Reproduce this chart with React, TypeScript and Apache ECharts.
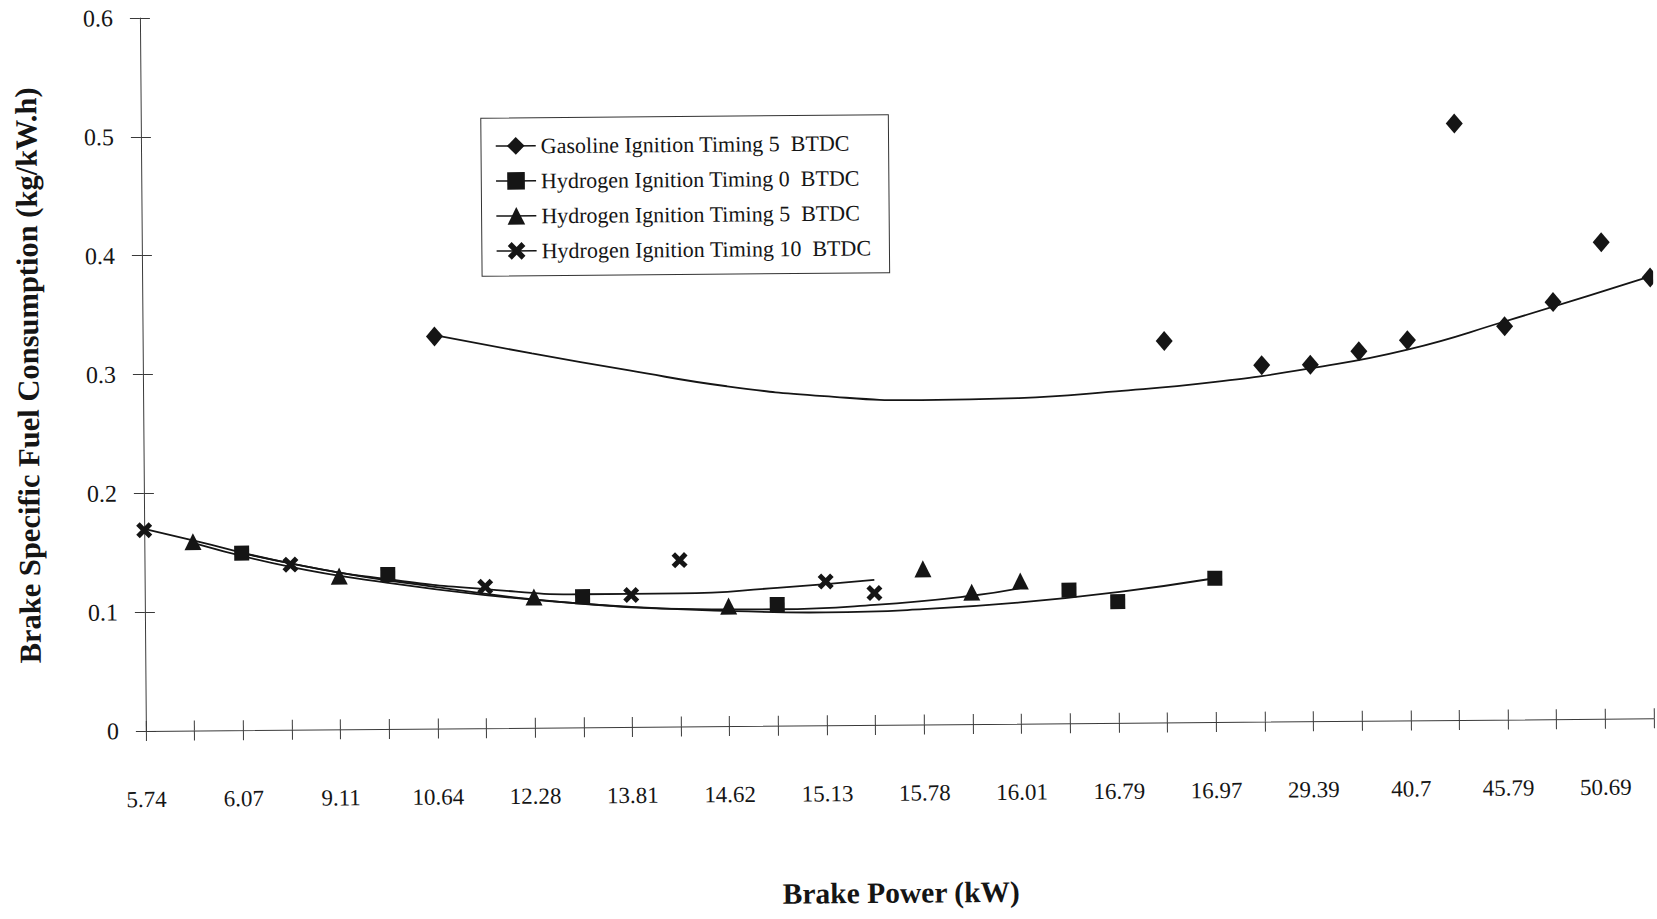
import React, { useEffect, useRef } from "react";
import * as echarts from "echarts";

// ---------- data ----------
// Brake power (kW) tick labels; the axis shows a label on every second category
const xLabels = [
  "5.74", "6.07", "9.11", "10.64", "12.28", "13.81", "14.62", "15.13",
  "15.78", "16.01", "16.79", "16.97", "29.39", "40.7", "45.79", "50.69",
];
const categories: string[] = xLabels.flatMap((l) => [l, ""]); // 32 categories

const yTicks = [0, 0.1, 0.2, 0.3, 0.4, 0.5, 0.6];

const seriesNames = [
  "Gasoline Ignition Timing 5  BTDC",
  "Hydrogen Ignition Timing 0  BTDC",
  "Hydrogen Ignition Timing 5  BTDC",
  "Hydrogen Ignition Timing 10  BTDC",
];

// [category index, BSFC kg/kW.h]
const gasoline: [number, number][] = [
  [6, 0.33], [21, 0.321], [23, 0.3], [24, 0.3], [25, 0.311], [26, 0.32],
  [27, 0.502], [28, 0.331], [29, 0.351], [30, 0.401], [31, 0.371],
];
const hydrogen0: [number, number][] = [
  [2, 0.149], [5, 0.13], [9, 0.11], [13, 0.102], [19, 0.112], [20, 0.102], [22, 0.121],
];
const hydrogen5: [number, number][] = [
  [1, 0.159], [4, 0.129], [8, 0.11], [12, 0.101], [16, 0.131], [17, 0.111], [18, 0.12],
];
const hydrogen10: [number, number][] = [
  [0, 0.169], [3, 0.139], [7, 0.119], [10, 0.111], [11, 0.14], [14, 0.121], [15, 0.111],
];

// polynomial trend lines at several categories
const gasolineTrend: [number, number][] = [
  [6, 0.331], [8, 0.315], [10, 0.3], [12, 0.286], [14, 0.277], [16, 0.273],
  [18, 0.274], [20, 0.279], [22, 0.286], [24, 0.297], [26, 0.312], [28, 0.335], [31, 0.372],
];
const hydrogen0Trend: [number, number][] = [
  [2, 0.149], [4, 0.132], [6, 0.119], [8, 0.108], [10, 0.101], [12, 0.097],
  [14, 0.095], [16, 0.097], [18, 0.102], [20, 0.11], [22, 0.121],
];
const hydrogen5Trend: [number, number][] = [
  [1, 0.158], [3, 0.137], [5, 0.123], [7, 0.112], [9, 0.104], [11, 0.099],
  [13, 0.098], [15, 0.101], [17, 0.108], [18, 0.114],
];
const hydrogen10Trend: [number, number][] = [
  [0, 0.17], [1, 0.16], [3, 0.14], [5, 0.126], [7, 0.117], [9, 0.112],
  [11, 0.112], [13, 0.116], [15, 0.122],
];

// ---------- styling ----------
const FONT = '"Liberation Serif", "Times New Roman", Times, serif';
const INK = "#151515";
const AXIS = "#3a3a3a";
const X_SYMBOL =
  "path://M0,2.2 L2.2,0 L5,2.8 L7.8,0 L10,2.2 L7.2,5 L10,7.8 L7.8,10 L5,7.2 L2.2,10 L0,7.8 L2.8,5 Z";

function markerSeries(name: string, data: [number, number][], symbol: string, size: number | number[]) {
  return {
    name,
    type: "line",
    data,
    symbol,
    symbolSize: size,
    showAllSymbol: true,
    lineStyle: { width: 0, opacity: 0 },
    itemStyle: { color: INK },
    z: 4,
    silent: true,
  };
}

function trendSeries(name: string, data: [number, number][]) {
  return {
    name,
    type: "line",
    data,
    smooth: true,
    symbol: "none",
    lineStyle: { color: INK, width: 1.8 },
    z: 3,
    silent: true,
  };
}

const tickStyle = { color: AXIS, width: 1 };

const option = {
  animation: false,
  backgroundColor: "#ffffff",
  textStyle: { fontFamily: FONT, color: INK },
  grid: { left: 146, right: 3, top: 18, bottom: 175, containLabel: false },
  legend: {
    data: seriesNames,
    orient: "vertical",
    left: 486,
    top: 121,
    padding: [17, 18, 14, 14],
    itemGap: 13,
    itemWidth: 40,
    itemHeight: 22,
    borderColor: "#333",
    borderWidth: 1,
    backgroundColor: "#fff",
    selectedMode: false,
    textStyle: { fontSize: 22, fontFamily: FONT, color: INK },
    lineStyle: { color: INK, width: 1.5, opacity: 1, type: "solid" },
  },
  xAxis: [
    {
      type: "category",
      data: categories,
      boundaryGap: false,
      position: "bottom",
      axisLine: { show: true, lineStyle: tickStyle },
      axisTick: { show: true, interval: 0, length: 10, lineStyle: tickStyle },
      axisLabel: { interval: 1, margin: 57, fontSize: 23, color: INK, fontFamily: FONT },
      splitLine: { show: false },
      name: "Brake Power (kW)",
      nameLocation: "middle",
      nameGap: 153,
      nameTextStyle: { fontSize: 29.5, fontWeight: "bold", fontFamily: FONT, color: INK },
    },
    {
      type: "category",
      data: categories,
      boundaryGap: false,
      position: "bottom",
      axisLine: { show: false },
      axisTick: { show: true, inside: true, interval: 0, length: 10, lineStyle: tickStyle },
      axisLabel: { show: false },
      splitLine: { show: false },
    },
  ],
  yAxis: [
    {
      type: "value",
      position: "left",
      min: yTicks[0],
      max: yTicks[yTicks.length - 1],
      interval: yTicks[1] - yTicks[0],
      axisLine: { show: true, lineStyle: tickStyle },
      axisTick: { show: true, length: 10, lineStyle: tickStyle },
      axisLabel: { margin: 27, fontSize: 24, color: INK, fontFamily: FONT },
      splitLine: { show: false },
      name: "Brake Specific Fuel Consumption (kg/kW.h)",
      nameLocation: "middle",
      nameGap: 99,
      nameTextStyle: { fontSize: 30.5, fontWeight: "bold", fontFamily: FONT, color: INK },
    },
    {
      type: "value",
      position: "left",
      min: yTicks[0],
      max: yTicks[yTicks.length - 1],
      interval: yTicks[1] - yTicks[0],
      axisLine: { show: false },
      axisTick: { show: true, inside: true, length: 10, lineStyle: tickStyle },
      axisLabel: { show: false },
      splitLine: { show: false },
    },
  ],
  series: [
    trendSeries("Gasoline trend", gasolineTrend),
    trendSeries("Hydrogen 0 trend", hydrogen0Trend),
    trendSeries("Hydrogen 5 trend", hydrogen5Trend),
    trendSeries("Hydrogen 10 trend", hydrogen10Trend),
    markerSeries(seriesNames[0], gasoline, "diamond", [17, 20]),
    markerSeries(seriesNames[1], hydrogen0, "rect", 15),
    markerSeries(seriesNames[2], hydrogen5, "triangle", 17),
    markerSeries(seriesNames[3], hydrogen10, X_SYMBOL, 16),
  ],
};

export default function App() {
  const ref = useRef<HTMLDivElement>(null);
  useEffect(() => {
    if (!ref.current) return;
    const chart = echarts.init(ref.current, null, { renderer: "svg" });
    chart.setOption(option as any);
    return () => chart.dispose();
  }, []);
  return (
    <div
      ref={ref}
      style={{
        position: "absolute",
        left: 0,
        top: 0,
        width: 1657,
        height: 919,
        background: "#fff",
        transform: "rotate(-0.48deg)",
        transformOrigin: "146px 744px",
      }}
    />
  );
}
